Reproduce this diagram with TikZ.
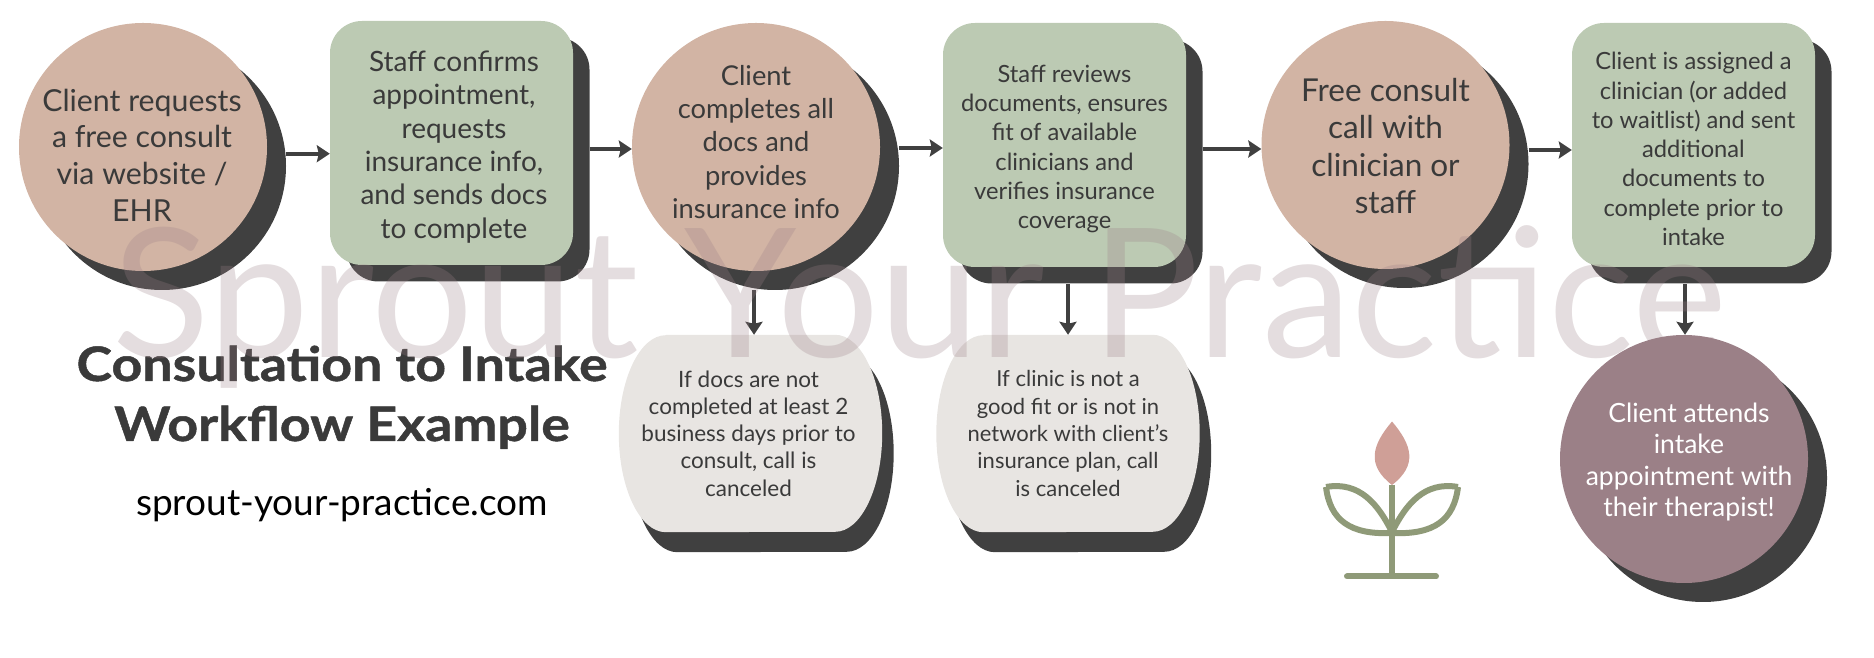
\documentclass[tikz,border=0pt]{standalone}
\usepackage{fontspec}
\usetikzlibrary{arrows.meta,positioning,shadows}
\setmainfont{Lato}
\newfontfamily\titlefont[FakeStretch=1.13,FakeBold=1]{Lato Bold}
\definecolor{peach}{HTML}{D2B4A4}
\definecolor{sage}{HTML}{BCCAB3}
\definecolor{stone}{HTML}{E8E5E2}
\definecolor{mauve}{HTML}{9B8087}
\definecolor{darkshade}{HTML}{404040}
\definecolor{ink}{HTML}{3A3A3A}
\definecolor{leaf}{HTML}{8F9A78}
\definecolor{bud}{HTML}{CF9F97}
\tikzset{
  shaded/.style={general shadow={fill=darkshade,shadow xshift=#1,shadow yshift=-#1}},
  disc/.style={circle,fill=#1,minimum size=248pt,inner sep=0pt,shaded=19pt},
  card/.style={rectangle,rounded corners=32pt,fill=sage,minimum width=243pt,minimum height=244pt,inner sep=0pt,shaded=16.5pt},
  pill/.style={rectangle,minimum width=263pt,minimum height=197pt,inner sep=0pt},
  txt/.style n args={2}{align=center,inner sep=0pt,text=ink,font=\fontsize{#1}{#2}\selectfont},
  flow/.style={->,line width=4pt,draw=darkshade},
}
\begin{document}
\begin{tikzpicture}[>={Stealth[length=13pt,width=17pt,inset=2pt]},on grid]
  \useasboundingbox (0,0) rectangle (1874pt,658pt);
  \node[disc=peach]  (c1) at (143pt,511pt)               {};
  \node[card]        (b2) [above right=4pt and 308.5pt of c1] {};
  \node[disc=peach]  (c3) [below right=4pt and 304.5pt of b2] {};
  \node[card]        (b4) [above right=2pt and 308.5pt of c3] {};
  \node[disc=peach]  (c5) [right=321pt of b4]             {};
  \node[card]        (b6) [right=308pt of c5]             {};
  \node[disc=mauve]  (c7) [below left=314pt and 9.5pt of b6] {};
  \node[pill]        (r1) at (750.5pt,224.5pt)            {};
  \node[pill]        (r2) [right=317.5pt of r1]           {};
  % the two rejected cases, shadow first
  \foreach \name in {r1,r2}{
    \foreach \dx/\dy/\col in {11.5/-20/darkshade,0/0/stone}{
      \fill[\col] ([shift={(47pt+\dx pt,\dy pt)}]\name.north west) -- ([shift={(-47pt+\dx pt,\dy pt)}]\name.north east)
         arc[start angle=90,end angle=-90,x radius=47pt,y radius=98.5pt]
         -- ([shift={(47pt+\dx pt,\dy pt)}]\name.south west)
         arc[start angle=270,end angle=90,x radius=47pt,y radius=98.5pt] -- cycle;
    }
  }
  % texts
  \node[txt={30.3}{36.7}] (c1t) at ([shift={(-1pt,-8pt)}]c1) {Client requests\\a free consult\\via website /\\EHR};
  \node[txt={28}{33.3}] (b2t) at ([shift={(2.5pt,-4pt)}]b2) {Staff confirms\\appointment,\\requests\\insurance info,\\and sends docs\\to complete};
  \node[txt={27.3}{33.3}] (c3t) at ([yshift=5pt]c3) {Client\\completes all\\docs and\\provides\\insurance info};
  \node[txt={23.7}{29.3}] (b4t) at ([yshift=-4pt]b4) {Staff reviews\\documents, ensures\\fit of available\\clinicians and\\verifies insurance\\coverage};
  \node[txt={31.5}{37.5}] (c5t) at ([yshift=-1pt]c5) {Free consult\\call with\\clinician or\\staff};
  \node[txt={23.7}{29.3}] (b6t) at ([yshift=-4pt]b6) {Client is assigned a\\clinician (or added\\to waitlist) and sent\\additional\\documents to\\complete prior to\\intake};
  \node[txt={22.5}{27.3}] (r1t) at ([xshift=-2pt]r1) {If docs are not\\completed at least 2\\business days prior to\\consult, call is\\canceled};
  \node[txt={22}{27.3}] (r2t) at (r2) {If clinic is not a\\good fit or is not in\\network with client’s\\insurance plan, call\\is canceled};
  \node[txt={26.5}{31.3},text=white] (c7t) at ([shift={(5pt,-3pt)}]c7) {Client attends\\intake\\appointment with\\their therapist!};
  \node[align=center,text=ink,inner sep=0pt,anchor=base,font=\titlefont\fontsize{47.5}{60}\selectfont] (title) at (342pt,217pt) {Consultation to Intake\\Workflow Example};
  \node[inner sep=0pt,anchor=base,text=black,font=\fontsize{37}{42}\selectfont] (url) at (342pt,142pt) {sprout-your-practice.com};
  % connectors
  \draw[flow] ([shift={(19pt,-6.7pt)}]c1.east) -- ([yshift=-6.7pt]c1.east -| b2.west);
  \draw[flow] ([shift={(16.5pt,-6pt)}]b2.east) -- ([yshift=-6pt]b2.east -| c3.west);
  \draw[flow] ([shift={(19pt,-1pt)}]c3.east) -- ([yshift=-1pt]c3.east -| b4.west);
  \draw[flow] ([shift={(16.5pt,-4pt)}]b4.east) -- ([yshift=-4pt]b4.east -| c5.west);
  \draw[flow] ([shift={(19pt,-5pt)}]c5.east) -- ([yshift=-5pt]c5.east -| b6.west);
  \draw[flow] ([shift={(-2pt,-19pt)}]c3.south) -- ([xshift=-2pt]c3.south |- r1.north);
  \draw[flow] ([shift={(3.5pt,-17pt)}]b4.south) -- ([xshift=3.5pt]b4.south |- r2.north);
  \draw[flow] ([shift={(-8.5pt,-17pt)}]b6.south) -- ([xshift=-8.5pt]b6.south |- c7.north);
  % plant
  \draw[leaf,line width=5.5pt] (1392pt,173pt) -- (1392pt,82pt);
  \draw[leaf,line width=6pt,line cap=round] (1347pt,81.5pt) -- (1436pt,81.5pt);
  \draw[leaf,line width=6pt,line join=round] (1326pt,171pt) .. controls (1360pt,177pt) and (1378pt,153pt) .. (1391pt,128pt)
     (1392pt,125pt) .. controls (1350pt,123pt) and (1330pt,138pt) .. (1326pt,171pt);
  \draw[leaf,line width=6pt,line join=round] (1458pt,171pt) .. controls (1424pt,177pt) and (1406pt,153pt) .. (1393pt,128pt)
     (1392pt,125pt) .. controls (1434pt,123pt) and (1454pt,138pt) .. (1458pt,171pt);
  \fill[bud] (1392pt,236.5pt) .. controls (1372pt,213pt) and (1366pt,193pt) .. (1392pt,173pt)
     .. controls (1418pt,193pt) and (1412pt,213pt) .. (1392pt,236.5pt);
  % watermark
  \node[anchor=base,inner sep=0pt,text=mauve,text opacity=.27,font=\fontsize{180}{190}\selectfont] (mark) at (920pt,300pt) {Sprout Your Practice};
\end{tikzpicture}
\end{document}
